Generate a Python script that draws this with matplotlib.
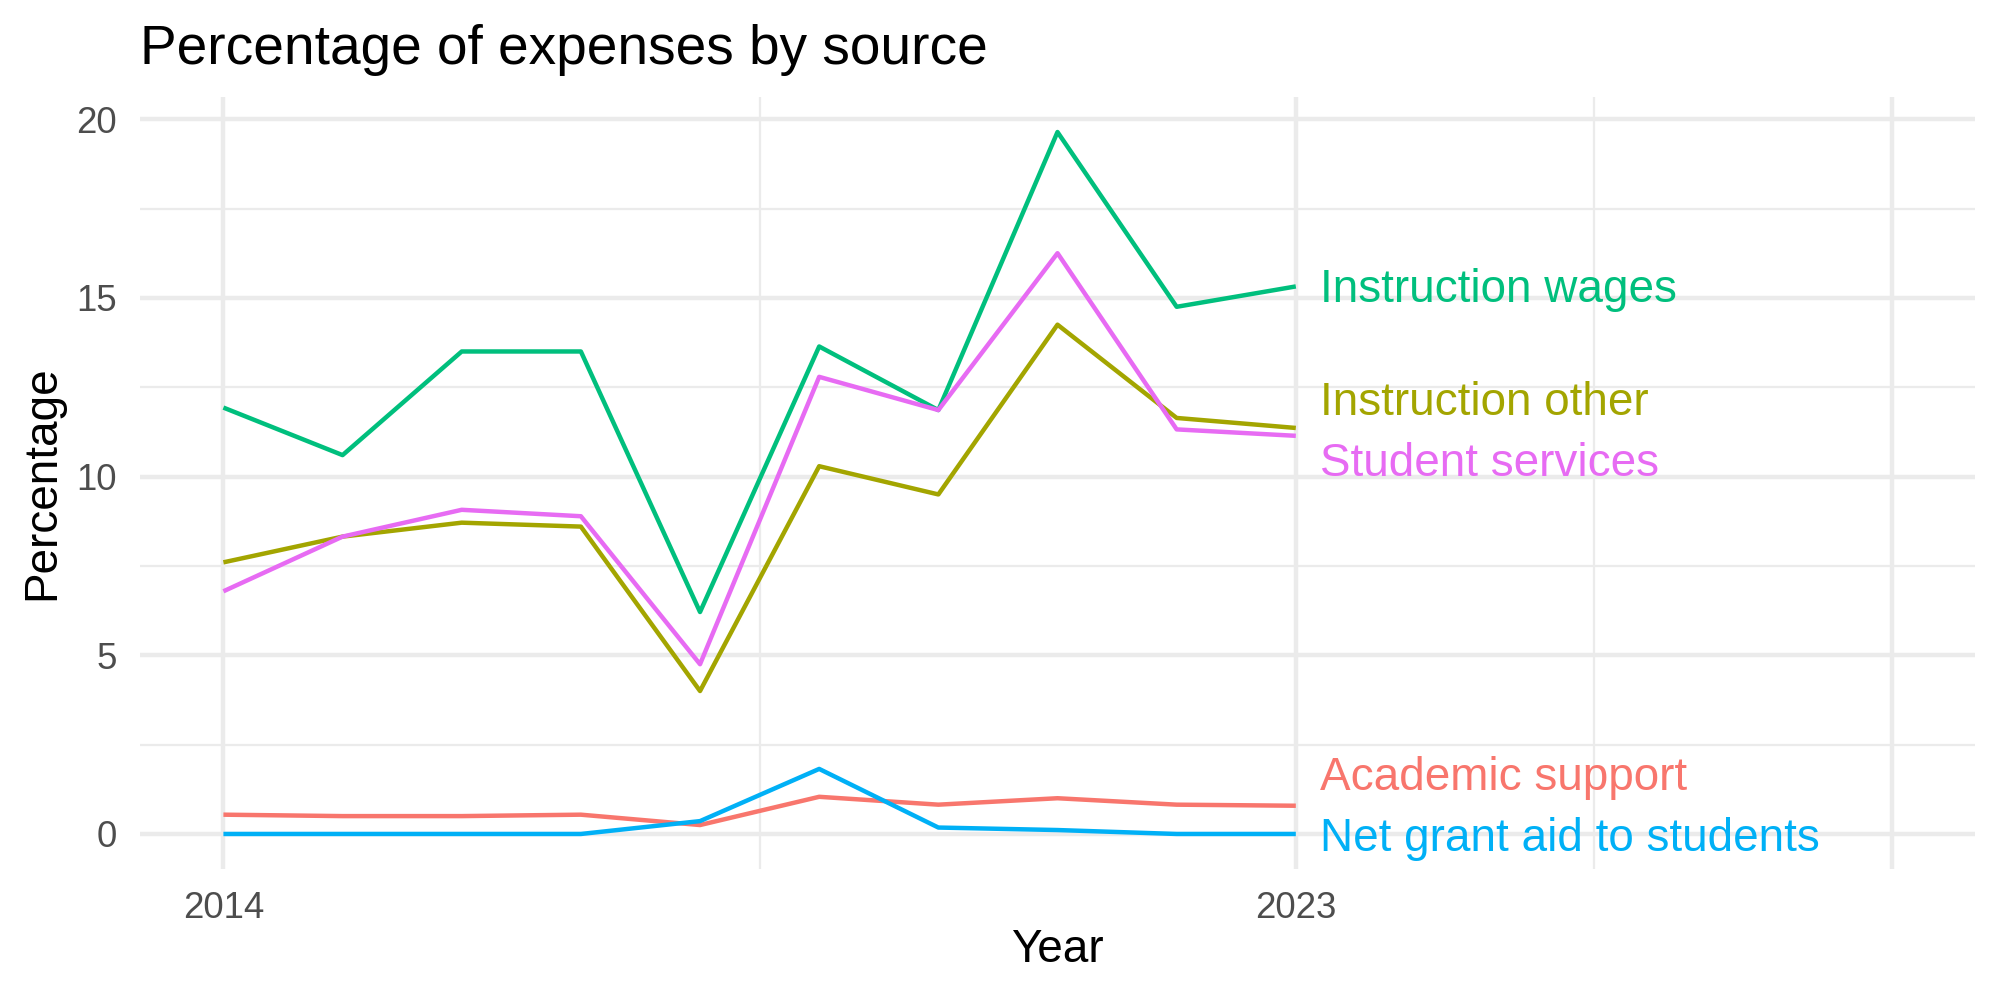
import matplotlib
matplotlib.use("Agg")
import matplotlib.pyplot as plt

plt.rcParams['font.family'] = ['Liberation Sans', 'DejaVu Sans']

years = [2014, 2015, 2016, 2017, 2018, 2019, 2020, 2021, 2022, 2023]

series_names = ["Academic support", "Instruction other", "Instruction wages",
                "Net grant aid to students", "Student services"]
academic_support = [0.54, 0.50, 0.50, 0.54, 0.25, 1.04, 0.82, 1.00, 0.82, 0.79]
instruction_other = [7.60, 8.32, 8.71, 8.60, 4.00, 10.29, 9.50, 14.25, 11.64, 11.36]
instruction_wages = [11.93, 10.60, 13.50, 13.50, 6.21, 13.64, 11.86, 19.64, 14.75, 15.32]
net_grant_aid = [0.00, 0.00, 0.00, 0.00, 0.36, 1.82, 0.18, 0.11, 0.00, 0.00]
student_services = [6.79, 8.32, 9.07, 8.89, 4.75, 12.79, 11.86, 16.25, 11.32, 11.14]

colors = ["#F8766D", "#A3A500", "#00BF7D", "#00B0F6", "#E76BF3"]
label_x = 2023.2
label_y = [1.56, 12.06, 15.21, -0.15, 10.35]

x_major = [2014, 2023, 2028]
x_major_labels = ["2014", "2023", ""]
x_minor = [2018.5, 2025.5]
y_major = [0, 5, 10, 15, 20]
y_minor = [2.5, 7.5, 12.5, 17.5]

all_series = [academic_support, instruction_other, instruction_wages,
              net_grant_aid, student_services]

fig = plt.figure(figsize=(20/3, 10/3), dpi=300)
ax = fig.add_axes([0.07, 0.131, 0.9175, 0.772])

grid_col = "#EBEBEB"
for v in x_major:
    ax.axvline(v, color=grid_col, lw=1.07, zorder=0)
for v in x_minor:
    ax.axvline(v, color=grid_col, lw=0.53, zorder=0)
for v in y_major:
    ax.axhline(v, color=grid_col, lw=1.07, zorder=0)
for v in y_minor:
    ax.axhline(v, color=grid_col, lw=0.53, zorder=0)

for name, vals, c, ly in zip(series_names, all_series, colors, label_y):
    ax.plot(years, vals, color=c, lw=1.07, zorder=2, solid_capstyle='butt')
    ax.text(label_x, ly, name, color=c, fontsize=11.0, ha='left', va='center', zorder=3)

ax.set_xlim(2013.3, 2028.7)
ax.set_ylim(-0.98, 20.62)
ax.set_xticks(x_major)
ax.set_xticklabels(x_major_labels)
ax.set_yticks(y_major)
ax.set_yticklabels([str(v) for v in y_major])
for s in ax.spines.values():
    s.set_visible(False)
ax.tick_params(axis='both', length=0, labelsize=8.8, labelcolor="#4D4D4D")
ax.tick_params(axis='x', pad=5.3)
ax.tick_params(axis='y', pad=5.5)

ax.set_xlabel("Year", fontsize=11, color="black")
ax.set_ylabel("Percentage", fontsize=11, color="black")
ax.xaxis.set_label_coords(0.5, -0.105)
ax.xaxis.label.set_va('center')
ax.yaxis.set_label_coords(-0.0534, 0.5)
ax.yaxis.label.set_va('center')

fig.text(0.07, 1 - 0.0645, "Percentage of expenses by source", fontsize=13.2,
         ha='left', va='baseline', color='black')

fig.savefig("out.png", dpi=300, facecolor='white')
